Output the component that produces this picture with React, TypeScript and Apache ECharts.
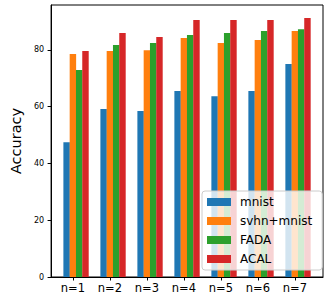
import React, { useEffect, useRef } from "react";
import * as echarts from "echarts";

const categories = ["n=1", "n=2", "n=3", "n=4", "n=5", "n=6", "n=7"];
const seriesNames = ["mnist", "svhn+mnist", "FADA", "ACAL"];
const mnist = [47.5, 59.2, 58.5, 65.5, 63.7, 65.5, 75.0];
const svhnMnist = [78.5, 79.6, 79.9, 84.2, 82.4, 83.5, 86.6];
const fada = [72.9, 81.7, 82.4, 85.2, 85.9, 86.6, 87.3];
const acal = [79.6, 85.9, 84.5, 90.5, 90.5, 90.5, 91.2];
const colors = ["#1f77b4", "#ff7f0e", "#2ca02c", "#d62728"];
const yTicks = [0, 20, 40, 60, 80];

const BAR_W = 0.17;
const FONT = "DejaVu Sans";

export default function App() {
  const ref = useRef<HTMLDivElement>(null);
  useEffect(() => {
    if (!ref.current) return;
    const chart = echarts.init(ref.current, undefined, { renderer: "svg" });
    const allSeries = [mnist, svhnMnist, fada, acal];
    const xTicks = categories.map((_, i) => i);
    chart.setOption({
      animation: false,
      grid: {
        left: 44.5,
        right: 9,
        top: 5,
        bottom: 22,
        show: true,
        borderColor: "#000",
        borderWidth: 1,
        backgroundColor: "transparent",
      },
      legend: {
        data: seriesNames,
        orient: "vertical",
        left: 202,
        top: 191,
        icon: "rect",
        itemWidth: 24,
        itemHeight: 8,
        itemGap: 7,
        padding: [5, 10, 5, 5],
        backgroundColor: "rgba(255,255,255,0.8)",
        borderColor: "#cccccc",
        borderWidth: 1,
        borderRadius: 3,
        textStyle: { fontFamily: FONT, fontSize: 12, color: "#000", lineHeight: 12, padding: [0, 0, 0, 4] },
      },
      xAxis: {
        type: "value",
        min: -0.59,
        max: 6.76,
        splitLine: { show: false },
        axisLine: { show: true, onZero: false, lineStyle: { color: "#000", width: 1 } },
        axisTick: { show: true, length: 3.5, lineStyle: { color: "#000" }, customValues: xTicks },
        axisLabel: {
          customValues: xTicks,
          formatter: (v: number) => categories[Math.round(v)] ?? "",
          fontFamily: FONT,
          fontSize: 11.5,
          color: "#000",
          margin: 5,
        },
      },
      yAxis: {
        type: "value",
        min: 0,
        max: 95.8,
        name: "Accuracy",
        nameLocation: "middle",
        nameRotate: 90,
        nameGap: 27,
        nameTextStyle: { fontFamily: FONT, fontSize: 14.5, color: "#000" },
        splitLine: { show: false },
        axisLine: { show: true, onZero: false, lineStyle: { color: "#000", width: 1 } },
        axisTick: { show: true, length: 3.5, lineStyle: { color: "#000" }, customValues: yTicks },
        axisLabel: {
          customValues: yTicks,
          fontFamily: FONT,
          fontSize: 8,
          color: "#000",
          margin: 7,
        },
      },
      series: allSeries.map((vals, s) => ({
        name: seriesNames[s],
        type: "bar",
        barWidth: 6.45,
        barGap: "-100%",
        itemStyle: { color: colors[s] },
        data: vals.map((v, i) => [i + (s - 1) * BAR_W, v]),
      })),
    });
    return () => chart.dispose();
  }, []);
  return (
    <div
      ref={ref}
      style={{ position: "fixed", left: 0, top: 0, width: 332, height: 299, background: "#fff" }}
    />
  );
}
